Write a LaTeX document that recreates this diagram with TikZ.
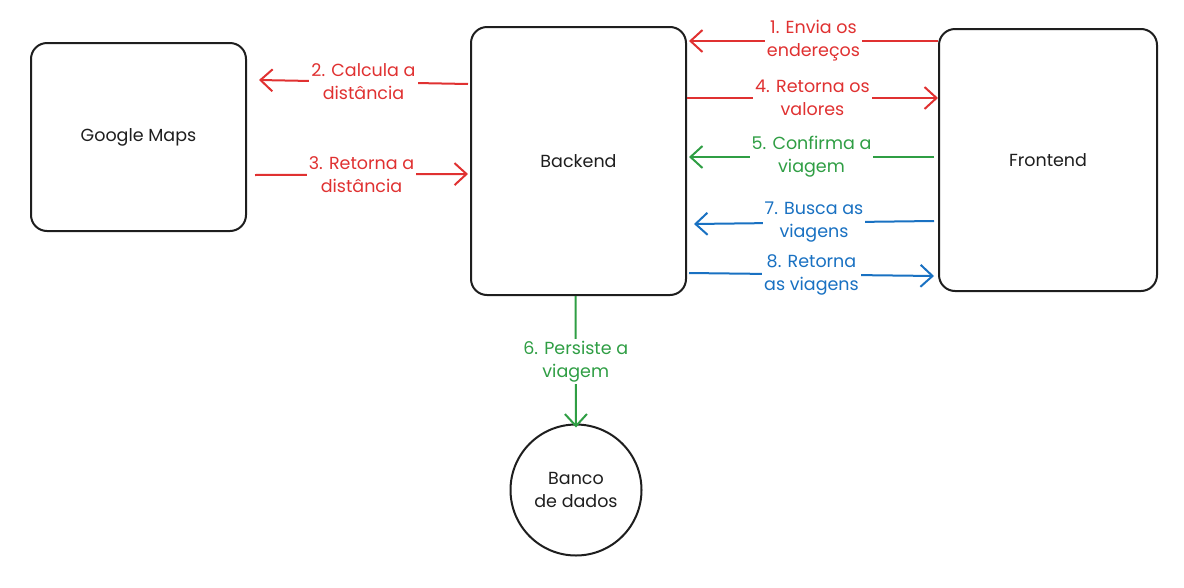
\documentclass[tikz,border=0pt]{standalone}
\usepackage{fontspec}
\setmainfont{Poppins}
\usetikzlibrary{arrows.meta,calc}
\definecolor{exred}{HTML}{E03131}
\definecolor{exgreen}{HTML}{2F9E44}
\definecolor{exblue}{HTML}{1971C2}
\definecolor{exblack}{HTML}{1E1E1E}
\tikzset{
  box/.style={draw=exblack, line width=2pt, rounded corners=16pt, fill=white, font=\fontsize{17.5}{22}\selectfont, text=exblack},
  dbnode/.style={draw=exblack, line width=2pt, circle, minimum size=131pt, inner sep=0pt, align=center, font=\fontsize{17.5}{23}\selectfont, text=exblack},
  conn/.style={line width=2pt, -{Straight Barb[length=12pt,width=22pt,line width=2pt]}},
  lbl/.style={fill=white, align=center, inner sep=2pt, font=\fontsize{17.5}{23}\selectfont},
}
\begin{document}
\begin{tikzpicture}[x=1pt,y=-1pt]
\useasboundingbox (0,0) rectangle (1184,587);
\node[box, minimum width=215pt, minimum height=188pt] (gmaps) at (138.5,137) {Google Maps};
\node[box, minimum width=215pt, minimum height=268pt] (backend) at (578.5,161) {Backend};
\node[box, minimum width=218pt, minimum height=262pt] (frontend) at (1048,160) {Frontend};
\node[dbnode] (db) at (576,490) {Banco\\de dados};

% 1
\draw[conn, exred] ([yshift=119pt]frontend.west) -- ([yshift=120pt,xshift=2pt]backend.east)
  node[lbl, text=exred, midway] (l1) {1. Envia os\\endereços};
% 4
\draw[conn, exred] ([yshift=63pt]backend.east) -- ([yshift=62pt]frontend.west)
  node[lbl, text=exred, midway] (l4) {4. Retorna os\\valores};
% 5
\draw[conn, exgreen] ([yshift=3pt,xshift=-4pt]frontend.west) -- ([yshift=4pt,xshift=2pt]backend.east)
  node[lbl, text=exgreen, midway] (l5) {5. Confirma a\\viagem};
% 7
\draw[conn, exblue] ([yshift=-61pt,xshift=-4pt]frontend.west) -- ([yshift=-63pt,xshift=7pt]backend.east)
  node[lbl, text=exblue, midway] (l7) {7. Busca as\\viagens};
% 8
\draw[conn, exblue] ([yshift=-112pt,xshift=2pt]backend.east) -- ([yshift=-116pt,xshift=-4pt]frontend.west)
  node[lbl, text=exblue, midway] (l8) {8. Retorna\\as viagens};
% 2
\draw[conn, exred] ([yshift=77pt,xshift=-2pt]backend.west) -- ([yshift=57pt,xshift=12pt]gmaps.east)
  node[lbl, text=exred, midway] (l2) {2. Calcula a\\distância};
% 3
\draw[conn, exred] ([yshift=-38pt,xshift=8pt]gmaps.east) -- ([yshift=-13pt,xshift=-2pt]backend.west)
  node[lbl, text=exred, midway] (l3) {3. Retorna a\\distância};
% 6
\draw[conn, exgreen] ([xshift=-3pt]backend.south) -- ([yshift=-4pt]db.north)
  node[lbl, text=exgreen, midway] (l6) {6. Persiste a\\viagem};
\end{tikzpicture}
\end{document}
